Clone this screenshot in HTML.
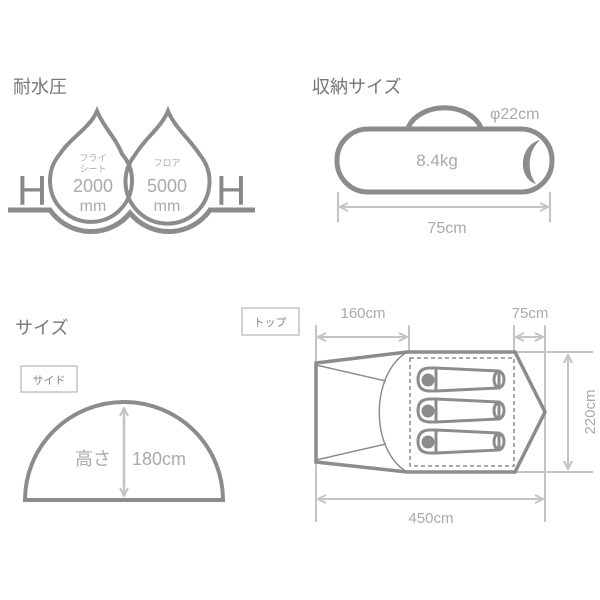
<!DOCTYPE html>
<html><head><meta charset="utf-8"><style>
html,body{margin:0;padding:0;background:#fff;}
svg{display:block;}
text{font-family:"Liberation Sans","Noto Sans CJK JP",sans-serif;}
</style></head><body>
<svg width="600" height="600" viewBox="0 0 600 600" xmlns="http://www.w3.org/2000/svg">
<defs>
<marker id="a" markerWidth="10" markerHeight="10" refX="9" refY="5" orient="auto-start-reverse" markerUnits="userSpaceOnUse">
<path d="M1,1 L9,5 L1,9" fill="none" stroke="#c4c4c4" stroke-width="2"/></marker>
</defs>
<!-- 耐水圧 -->
<text x="13" y="93" font-size="18" fill="#777">耐水圧</text>
<g fill="none" stroke="#8c8c8c" stroke-width="4">
<path d="M97,111 C104,128 116,138 122,154 A41,41 0 1 1 60,154 C70,138 90,128 97,111 Z"/>
<path d="M168,111 C175,128 189,138 200,155 A42,42 0 1 1 135,155 C145,138 161,128 168,111 Z"/>
<path d="M8,210 L50,210 A50,50 0 0 0 130,213 A50,50 0 0 0 210,210 L255,210" stroke-width="5"/>
</g>
<text x="17" y="205" font-size="42" fill="#888">H</text>
<text x="216" y="205" font-size="42" fill="#888">H</text>
<g fill="#aaa" text-anchor="middle">
<text x="93" y="161" font-size="9">フライ</text>
<text x="93" y="172" font-size="9">シート</text>
<text x="93" y="192" font-size="18">2000</text>
<text x="93" y="211" font-size="16">mm</text>
<text x="167" y="166" font-size="9">フロア</text>
<text x="167" y="192" font-size="18">5000</text>
<text x="167" y="211" font-size="16">mm</text>
</g>
<!-- 収納サイズ -->
<text x="312" y="93" font-size="18" fill="#777">収納サイズ</text>
<path d="M408,128 A38,28 0 0 1 481,128" fill="none" stroke="#8c8c8c" stroke-width="5"/>
<rect x="337" y="129" width="215" height="63" rx="31" fill="none" stroke="#8c8c8c" stroke-width="5"/>
<path d="M540,140 C519,145 517,178 536,184 C527,172 527,152 540,140 Z" fill="#8c8c8c"/>
<text x="437" y="166" font-size="17" fill="#aaa" text-anchor="middle">8.4kg</text>
<text x="490" y="119" font-size="16" fill="#aaa">φ22cm</text>
<g stroke="#c4c4c4" stroke-width="2">
<line x1="338" y1="192" x2="338" y2="222"/><line x1="550" y1="192" x2="550" y2="222"/>
<line x1="340" y1="207" x2="548" y2="207" marker-start="url(#a)" marker-end="url(#a)"/>
</g>
<text x="447" y="233" font-size="16" fill="#aaa" text-anchor="middle">75cm</text>
<!-- サイズ -->
<text x="15" y="334" font-size="18" fill="#777">サイズ</text>
<rect x="21" y="366" width="56" height="26" fill="none" stroke="#c4c4c4" stroke-width="1.5"/>
<text x="49" y="384" font-size="11" fill="#888" text-anchor="middle">サイド</text>
<path d="M25,500 A99,98 0 0 1 223,500 Z" fill="none" stroke="#8c8c8c" stroke-width="4"/>
<line x1="124" y1="408" x2="124" y2="496" stroke="#c4c4c4" stroke-width="2.5" marker-start="url(#a)" marker-end="url(#a)"/>
<text x="75" y="465" font-size="18" fill="#aaa">高さ</text>
<text x="132" y="465" font-size="18" fill="#aaa">180cm</text>
<!-- トップ -->
<rect x="242" y="308" width="57" height="27" fill="none" stroke="#c4c4c4" stroke-width="1.5"/>
<text x="270" y="326" font-size="11" fill="#888" text-anchor="middle">トップ</text>
<g stroke="#c4c4c4" stroke-width="2" fill="none">
<line x1="316" y1="325" x2="316" y2="522"/><line x1="545" y1="325" x2="545" y2="522"/>
<line x1="409" y1="325" x2="409" y2="352"/><line x1="514" y1="325" x2="514" y2="352"/>
<line x1="318" y1="337" x2="407" y2="337" marker-start="url(#a)" marker-end="url(#a)"/>
<line x1="516" y1="337" x2="543" y2="337" marker-start="url(#a)" marker-end="url(#a)"/>
<line x1="318" y1="499" x2="543" y2="499" marker-start="url(#a)" marker-end="url(#a)"/>
<line x1="515" y1="352" x2="593" y2="352"/><line x1="515" y1="472" x2="593" y2="472"/>
<line x1="568" y1="355" x2="568" y2="469" marker-start="url(#a)" marker-end="url(#a)"/>
</g>
<text x="363" y="318" font-size="15" fill="#aaa" text-anchor="middle">160cm</text>
<text x="530" y="318" font-size="15" fill="#aaa" text-anchor="middle">75cm</text>
<text x="431" y="523" font-size="15" fill="#aaa" text-anchor="middle">450cm</text>
<text x="0" y="0" font-size="15" fill="#aaa" text-anchor="middle" transform="translate(595,412) rotate(-90)">220cm</text>
<g fill="none" stroke="#8c8c8c">
<path d="M316,363 L407,352 L515,352 L545,412 L515,472 L407,472 L316,462 Z" stroke-width="3.5"/>
<path d="M407,352 C370,375 370,450 407,472" stroke-width="1.5"/>
<line x1="316" y1="365" x2="386" y2="381" stroke-width="1.5"/>
<line x1="316" y1="460" x2="386" y2="444" stroke-width="1.5"/>
<rect x="410" y="358" width="104" height="108" stroke-width="1.5" stroke-dasharray="4,3"/>
</g>
<g fill="none" stroke="#8c8c8c" stroke-width="3">
<g id="bag"><path d="M436,368 L499,371 L499,388 L436,391 L430,391 Q418,391 418,379.5 Q418,368 430,368 Z"/><ellipse cx="499" cy="379.5" rx="5" ry="8"/><line x1="436" y1="368" x2="436" y2="391"/><circle cx="428" cy="380" r="6.5" fill="#8c8c8c" stroke="none"/></g>
<use href="#bag" y="31"/><use href="#bag" y="62"/>
</g>
</svg>
</body></html>
